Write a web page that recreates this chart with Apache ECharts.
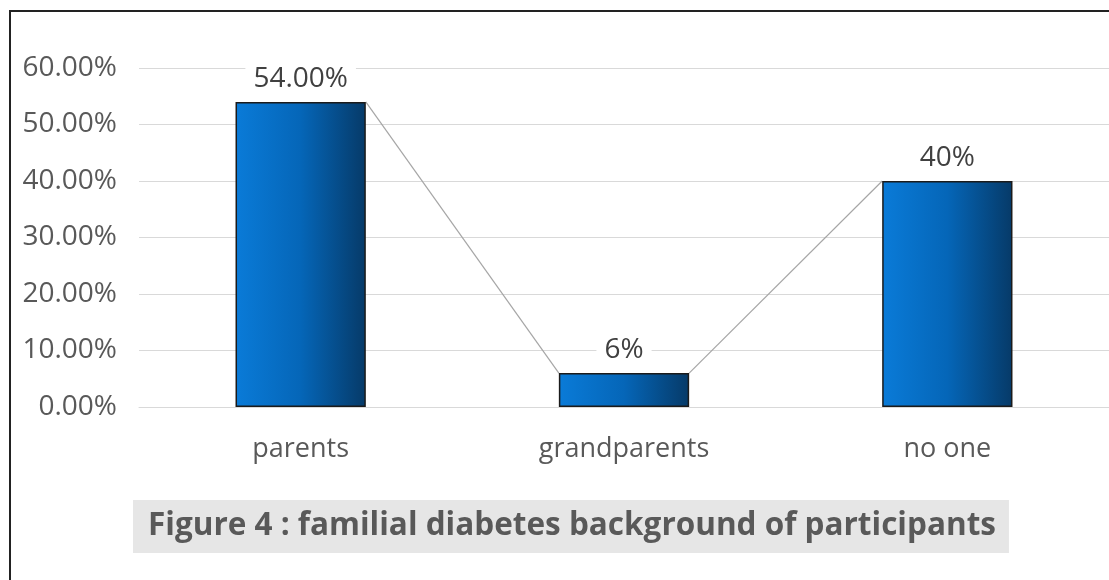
<!DOCTYPE html>
<html>
<head>
<meta charset="utf-8">
<script src="https://cdn.jsdelivr.net/npm/echarts@6/dist/echarts.min.js"></script>
<style>
  html, body { margin: 0; padding: 0; background: #fff; overflow: hidden; }
  #chart { width: 1109px; height: 580px; }
</style>
</head>
<body>
<div id="chart"></div>
<script>
// data
var categories = ['parents', 'grandparents', 'no one'];
var values = [0.54, 0.06, 0.40];
var valueLabels = ['54.00%', '6%', '40%'];
var yTicks = [0, 0.1, 0.2, 0.3, 0.4, 0.5, 0.6];
var figureTitle = 'Figure 4 : familial diabetes background of participants';

var chart = echarts.init(document.getElementById('chart'));
var barShare = 0.403; // bar width as part of one category

chart.setOption({
  animation: false,
  backgroundColor: '#fff',
  title: {
    text: figureTitle,
    left: 133,
    top: 500,
    backgroundColor: '#e6e6e6',
    padding: [10, 13, 11, 15],
    textStyle: {
      fontFamily: 'Open Sans',
      fontWeight: 'bold',
      fontSize: 31.5,
      color: '#595959'
    }
  },
  graphic: [{
    type: 'rect',
    shape: { x: 10, y: 11, width: 1300, height: 700 },
    style: { fill: 'none', stroke: '#222', lineWidth: 2 },
    silent: true
  }],
  grid: { left: 139, top: 68, width: 975, height: 339 },
  xAxis: {
    type: 'category',
    data: categories,
    axisTick: { show: false },
    axisLine: { lineStyle: { color: '#d9d9d9', width: 1 } },
    axisLabel: {
      margin: 29,
      fontFamily: 'Open Sans',
      fontSize: 27,
      color: '#595959'
    }
  },
  yAxis: {
    type: 'value',
    min: yTicks[0],
    max: yTicks[yTicks.length - 1],
    interval: 0.1,
    axisLine: { show: false },
    axisTick: { show: false },
    splitLine: { lineStyle: { color: '#d9d9d9', width: 1 } },
    axisLabel: {
      margin: 22,
      fontFamily: 'Open Sans',
      fontSize: 28,
      color: '#595959',
      formatter: function (v) { return (v * 100).toFixed(2) + '%'; }
    }
  },
  series: [
    {
      type: 'bar',
      data: values,
      barWidth: (barShare * 100) + '%',
      z: 3,
      itemStyle: {
        borderColor: '#1b1b1b',
        borderWidth: 1.5,
        color: new echarts.graphic.LinearGradient(0, 0, 1, 0, [
          { offset: 0, color: '#0a7bd8' },
          { offset: 0.5, color: '#0566b8' },
          { offset: 1, color: '#063a68' }
        ])
      },
      label: {
        show: true,
        position: 'top',
        distance: 9,
        fontFamily: 'Open Sans',
        fontSize: 28,
        color: '#404040',
        backgroundColor: '#fff',
        padding: [0, 8],
        formatter: function (p) { return valueLabels[p.dataIndex]; }
      }
    },
    {
      // excel style series lines, corner of one bar to the next
      type: 'custom',
      z: 2,
      silent: true,
      data: values.slice(0, -1).map(function (v, i) { return [i, v]; }),
      renderItem: function (params, api) {
        var i = params.dataIndex;
        var p1 = api.coord([i, values[i]]);
        var p2 = api.coord([i + 1, values[i + 1]]);
        var half = api.size([1, 0])[0] * barShare / 2;
        return {
          type: 'line',
          shape: { x1: p1[0] + half, y1: p1[1], x2: p2[0] - half, y2: p2[1] },
          style: { stroke: '#a6a6a6', lineWidth: 1.2 }
        };
      }
    }
  ]
});
</script>
</body>
</html>
